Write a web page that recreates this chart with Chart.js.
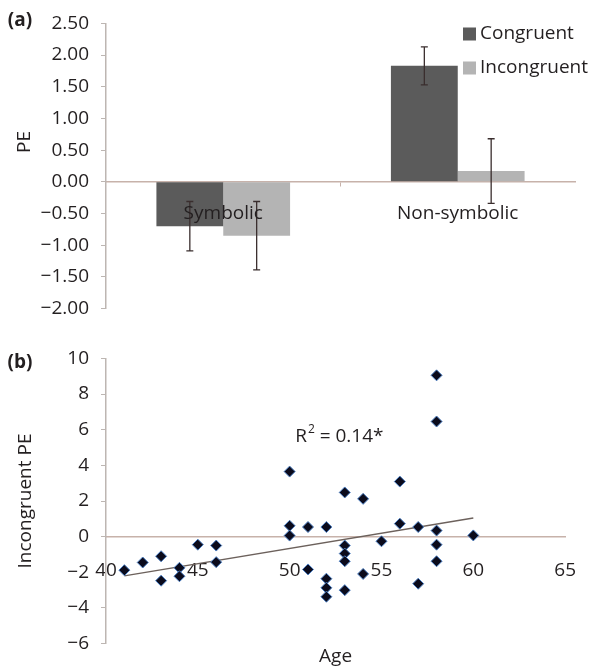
<!DOCTYPE html>
<html>
<head>
<meta charset="utf-8">
<script src="https://cdn.jsdelivr.net/npm/chart.js@4.4.1/dist/chart.umd.min.js"></script>
<style>
  html, body { margin: 0; padding: 0; background: #fff; }
  #wrap { position: relative; width: 591px; height: 667px; }
  .panel { position: absolute; left: 0; width: 591px; height: 332px; }
  #panelA { top: 0; }
  #panelB { top: 335px; }
</style>
</head>
<body>
<div id="wrap">
  <div class="panel" id="panelA"><canvas id="chartA"></canvas></div>
  <div class="panel" id="panelB"><canvas id="chartB"></canvas></div>
</div>
<script>
// (a) mean PE by condition, with error bars
const conditions = ["Symbolic", "Non-symbolic"];
const congruentPE = [-0.70, 1.83];
const congruentErr = [0.39, 0.30];
const incongruentPE = [-0.85, 0.17];
const incongruentErr = [0.54, 0.51];
const peTicks = [-2, -1.5, -1, -0.5, 0, 0.5, 1, 1.5, 2, 2.5];

// (b) incongruent PE against age
const ages = [41, 42, 43, 43, 44, 44, 45, 46, 46, 50, 50, 50, 51, 51, 52, 52, 52, 52,
              53, 53, 53, 53, 53, 54, 54, 55, 56, 56, 57, 57, 58, 58, 58, 58, 58, 60];
const incongruentByAge = [-1.88, -1.45, -1.10, -2.47, -1.75, -2.22, -0.45, -0.50, -1.43,
              3.65, 0.61, 0.06, 0.54, -1.84, 0.54, -2.36, -2.87, -3.37,
              2.48, -0.50, -0.95, -1.38, -3.00, 2.12, -2.09, -0.26, 3.09, 0.73,
              0.54, -2.64, 9.05, 6.46, 0.34, -0.45, -1.38, 0.07];
const trendAges = [41, 60];
const trendPE = [-2.2, 1.05];
const ageTicks = [40, 45, 50, 55, 60, 65];
const incongruentTicks = [-6, -4, -2, 0, 2, 4, 6, 8, 10];
const r2Value = "0.14*";

const TEXT = "#231f20";
const AXIS = "#bdb6b2";
const ZERO = "#c7b2aa";

Chart.defaults.font.family = "'Open Sans', sans-serif";
Chart.defaults.font.size = 19;
Chart.defaults.color = TEXT;

const minus = (v, digits) => (v < 0 ? "\u2212" : "") + Math.abs(v).toFixed(digits);
const useTicks = (list) => (scale) => { scale.ticks = list.map(v => ({value: v})); };

// error bars drawn from dataset.errors
const errorBars = {
    id: "errorBars",
    afterDatasetsDraw(chart) {
        const ctx = chart.ctx;
        const y = chart.scales.y;
        ctx.save();
        ctx.strokeStyle = "#3a2e2e";
        ctx.lineWidth = 1.3;
        chart.data.datasets.forEach((ds, i) => {
            const meta = chart.getDatasetMeta(i);
            meta.data.forEach((bar, j) => {
                const v = ds.data[j], e = ds.errors[j];
                const top = y.getPixelForValue(v + e);
                const bot = y.getPixelForValue(v - e);
                ctx.beginPath();
                ctx.moveTo(bar.x, top); ctx.lineTo(bar.x, bot);
                ctx.moveTo(bar.x - 3.5, top); ctx.lineTo(bar.x + 3.5, top);
                ctx.moveTo(bar.x - 3.5, bot); ctx.lineTo(bar.x + 3.5, bot);
                ctx.stroke();
            });
        });
        ctx.restore();
    }
};

// square legend in the upper right corner of panel (a)
const boxLegend = {
    id: "boxLegend",
    afterDraw(chart, args, opts) {
        const ctx = chart.ctx;
        ctx.save();
        ctx.font = "19px 'Open Sans', sans-serif";
        ctx.textBaseline = "middle";
        chart.data.datasets.forEach((ds, i) => {
            const cy = opts.y + i * opts.gap;
            ctx.fillStyle = ds.backgroundColor;
            ctx.fillRect(opts.x, cy - 6.5, 13, 13);
            ctx.fillStyle = TEXT;
            ctx.fillText(ds.label, opts.x + 17, cy);
        });
        ctx.restore();
    }
};

// free text: panel letters, axis titles, R squared
const textMarks = {
    id: "textMarks",
    afterDraw(chart, args, opts) {
        const ctx = chart.ctx;
        ctx.save();
        ctx.fillStyle = TEXT;
        ctx.textBaseline = "middle";
        (opts.items || []).forEach(t => {
            let x = t.x, y = t.y;
            if (t.dataX !== undefined) {
                x = chart.scales.x.getPixelForValue(t.dataX);
                y = chart.scales.y.getPixelForValue(t.dataY);
            }
            if (t.centerX) x = (chart.chartArea.left + chart.chartArea.right) / 2;
            ctx.save();
            ctx.translate(x, y);
            if (t.rotate) ctx.rotate(t.rotate);
            ctx.font = (t.bold ? "bold " : "") + "19px 'Open Sans', sans-serif";
            ctx.textAlign = t.align || "center";
            if (t.sup) {
                ctx.textAlign = "left";
                ctx.fillText(t.text, 0, 0);
                let w = ctx.measureText(t.text).width + 1;
                ctx.font = "12px 'Open Sans', sans-serif";
                ctx.fillText(t.sup, w, -7);
                w += ctx.measureText(t.sup).width;
                ctx.font = "19px 'Open Sans', sans-serif";
                ctx.fillText(t.after, w, 0);
            } else {
                ctx.fillText(t.text, 0, 0);
            }
            ctx.restore();
        });
        ctx.restore();
    }
};

new Chart(document.getElementById("chartA"), {
    type: "bar",
    data: {
        labels: conditions,
        datasets: [
            {label: "Congruent", data: congruentPE, errors: congruentErr, backgroundColor: "#5b5b5b"},
            {label: "Incongruent", data: incongruentPE, errors: incongruentErr, backgroundColor: "#b4b4b4"}
        ]
    },
    options: {
        responsive: true,
        maintainAspectRatio: false,
        animation: false,
        layout: {padding: {left: 0, right: 16, top: 19, bottom: 16}},
        datasets: {bar: {categoryPercentage: 0.57, barPercentage: 1.0}},
        plugins: {
            legend: {display: false},
            tooltip: {enabled: false},
            boxLegend: {x: 463, y: 34, gap: 34},
            textMarks: {items: [
                {text: "(a)", x: 20, y: 21, bold: true},
                {text: "PE", x: 25, y: 142, rotate: -Math.PI / 2}
            ]}
        },
        scales: {
            x: {
                position: {y: 0},
                offset: true,
                grid: {
                    offset: true,
                    drawOnChartArea: false,
                    tickLength: 4,
                    color: (c) => c.index === 1 ? ZERO : "transparent"
                },
                border: {color: ZERO, width: 1.5},
                ticks: {padding: 16, autoSkip: false, maxRotation: 0, z: 1}
            },
            y: {
                min: -2,
                max: 2.5,
                afterFit: (s) => { s.width = 106; },
                afterBuildTicks: useTicks(peTicks),
                ticks: {padding: 12, callback: (v) => minus(v, 2)},
                grid: {drawOnChartArea: false, tickLength: 5, color: AXIS},
                border: {color: AXIS, width: 1.5}
            }
        }
    },
    plugins: [errorBars, boxLegend, textMarks]
});

new Chart(document.getElementById("chartB"), {
    type: "scatter",
    data: {
        datasets: [
            {
                data: ages.map((a, i) => ({x: a, y: incongruentByAge[i]})),
                pointStyle: "rectRot",
                pointRadius: 5.5,
                backgroundColor: "#0b0b1c",
                borderColor: "#4d80c4",
                borderWidth: 1,
                order: 0
            },
            {
                type: "line",
                data: trendAges.map((a, i) => ({x: a, y: trendPE[i]})),
                borderColor: "#6c615c",
                borderWidth: 1.5,
                pointRadius: 0,
                order: 1
            }
        ]
    },
    options: {
        responsive: true,
        maintainAspectRatio: false,
        animation: false,
        layout: {padding: {left: 0, right: 14, top: 23, bottom: 23}},
        plugins: {
            legend: {display: false},
            tooltip: {enabled: false},
            textMarks: {items: [
                {text: "(b)", x: 20, y: 28, bold: true},
                {text: "Age", centerX: true, y: 322},
                {text: "R", sup: "2", after: " = " + r2Value, dataX: 50.3, dataY: 5.6}
            ]}
        },
        scales: {
            x: {
                type: "linear",
                position: {y: 0},
                min: 40,
                max: 65,
                afterBuildTicks: useTicks(ageTicks),
                grid: {display: false},
                border: {color: ZERO, width: 1.5},
                ticks: {padding: 15, autoSkip: false, maxRotation: 0}
            },
            y: {
                min: -6,
                max: 10,
                afterFit: (s) => { s.width = 106; },
                afterBuildTicks: useTicks(incongruentTicks),
                ticks: {padding: 12, callback: (v) => minus(v, 0)},
                grid: {drawOnChartArea: false, tickLength: 5, color: AXIS},
                border: {color: AXIS, width: 1.5},
                title: {display: true, text: "Incongruent PE", padding: {top: 14, bottom: 0}}
            }
        }
    },
    plugins: [textMarks]
});
</script>
</body>
</html>
